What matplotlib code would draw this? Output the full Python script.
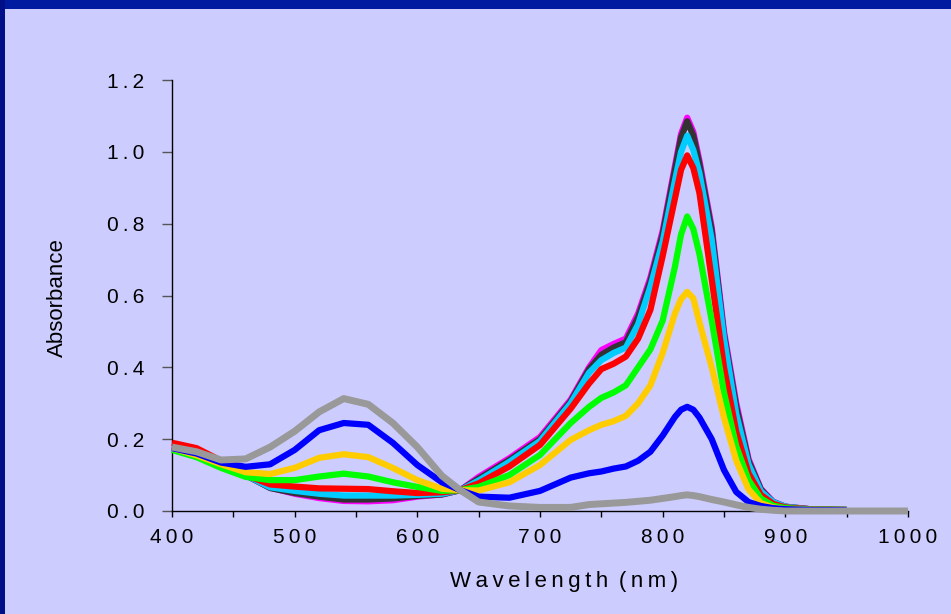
import matplotlib
matplotlib.use("Agg")
import matplotlib.pyplot as plt
from matplotlib.patches import Rectangle
from matplotlib.ticker import MultipleLocator, FixedLocator, FixedFormatter

plt.rcParams['font.family'] = ['Liberation Sans', 'DejaVu Sans']

# wavelength grid (nm)
wl = [400, 420, 440, 460, 480, 500, 520, 540, 560, 580, 600, 620, 635, 650, 675,
      700, 725, 740, 750, 760, 770, 780, 790, 800, 810, 815, 820, 825, 830, 840,
      850, 860, 870, 880, 890, 900, 920, 950]
wl_gray = wl + [1000]

magenta = [0.180, 0.165, 0.130, 0.100, 0.065, 0.048, 0.036, 0.028, 0.027, 0.030, 0.040, 0.046, 0.058, 0.095, 0.147,
           0.206, 0.310, 0.400, 0.448, 0.465, 0.480, 0.550, 0.650, 0.780, 0.960, 1.050, 1.095, 1.055, 0.975, 0.790,
           0.500, 0.300, 0.145, 0.062, 0.026, 0.012, 0.005, 0.003]
black = [0.178, 0.160, 0.128, 0.100, 0.064, 0.050, 0.040, 0.032, 0.032, 0.035, 0.042, 0.046, 0.058, 0.090, 0.142,
         0.200, 0.305, 0.395, 0.435, 0.455, 0.470, 0.540, 0.640, 0.770, 0.950, 1.040, 1.085, 1.045, 0.965, 0.780,
         0.490, 0.290, 0.140, 0.060, 0.025, 0.012, 0.005, 0.003]
cyan = [0.175, 0.160, 0.128, 0.100, 0.066, 0.056, 0.048, 0.043, 0.043, 0.043, 0.045, 0.048, 0.058, 0.085, 0.137,
        0.195, 0.300, 0.385, 0.420, 0.440, 0.455, 0.520, 0.625, 0.750, 0.920, 1.000, 1.045, 1.005, 0.940, 0.755,
        0.480, 0.270, 0.130, 0.055, 0.025, 0.012, 0.005, 0.003]
red = [0.190, 0.175, 0.140, 0.100, 0.074, 0.068, 0.063, 0.062, 0.061, 0.055, 0.050, 0.052, 0.058, 0.077, 0.124,
       0.184, 0.285, 0.355, 0.395, 0.410, 0.430, 0.480, 0.560, 0.710, 0.870, 0.950, 0.990, 0.955, 0.885, 0.645,
       0.400, 0.220, 0.105, 0.045, 0.020, 0.010, 0.005, 0.003]
green = [0.170, 0.150, 0.120, 0.095, 0.086, 0.086, 0.096, 0.104, 0.096, 0.080, 0.067, 0.056, 0.058, 0.067, 0.100,
         0.156, 0.245, 0.290, 0.315, 0.330, 0.350, 0.400, 0.450, 0.530, 0.680, 0.770, 0.820, 0.785, 0.715, 0.530,
         0.330, 0.180, 0.086, 0.035, 0.015, 0.008, 0.004, 0.003]
yellow = [0.175, 0.155, 0.130, 0.108, 0.103, 0.120, 0.148, 0.158, 0.150, 0.120, 0.086, 0.062, 0.058, 0.057, 0.080,
          0.128, 0.198, 0.225, 0.240, 0.250, 0.265, 0.300, 0.350, 0.440, 0.550, 0.590, 0.610, 0.592, 0.525, 0.400,
          0.260, 0.140, 0.060, 0.022, 0.010, 0.005, 0.003, 0.002]
blue = [0.175, 0.160, 0.135, 0.123, 0.130, 0.170, 0.225, 0.245, 0.240, 0.190, 0.128, 0.080, 0.058, 0.040, 0.037,
        0.056, 0.093, 0.105, 0.110, 0.118, 0.124, 0.140, 0.165, 0.210, 0.262, 0.282, 0.290, 0.282, 0.260, 0.200,
        0.114, 0.053, 0.025, 0.014, 0.008, 0.005, 0.003, 0.002]
gray = [0.178, 0.165, 0.142, 0.145, 0.178, 0.222, 0.276, 0.313, 0.297, 0.245, 0.178, 0.098, 0.058, 0.025, 0.014,
        0.010, 0.010, 0.018, 0.020, 0.022, 0.024, 0.027, 0.030, 0.035, 0.040, 0.043, 0.045, 0.043, 0.040, 0.032,
        0.025, 0.017, 0.010, 0.005, 0.002, 0.000, 0.000, 0.000, 0.000]

series = [(magenta, '#FF00FF'), (black, '#333333'), (cyan, '#00CCFF'), (red, '#FF0000'),
          (green, '#00FF00'), (yellow, '#FFCC00'), (blue, '#0000FF')]

xticks = [400, 500, 600, 700, 800, 900, 1000]
yticks = [0.0, 0.2, 0.4, 0.6, 0.8, 1.0, 1.2]

TS = '\u2009'  # thin space, mimics the letter-spaced slide text


def spaced(s):
    return TS.join(s)


bg = '#CCCCFF'
fig = plt.figure(figsize=(9.51, 6.14), dpi=100, facecolor=bg)

# dark blue slide frame
fig.patches.append(Rectangle((0, 1 - 9 / 614), 1, 9 / 614, transform=fig.transFigure,
                             facecolor='#001AA0', edgecolor='none', zorder=0))
fig.patches.append(Rectangle((0, 0), 5 / 951, 1, transform=fig.transFigure,
                             facecolor='#000E88', edgecolor='none', zorder=0))

ax = fig.add_axes([172 / 951, 103 / 614, 736 / 951, 431 / 614])
ax.set_facecolor(bg)

for vals, col in series:
    ax.plot(wl, vals, color=col, lw=4.5, solid_capstyle='butt', solid_joinstyle='round',
            clip_on=False, zorder=3)
ax.plot(wl_gray, gray, color='#999999', lw=5.0, solid_capstyle='butt', solid_joinstyle='round',
        clip_on=False, zorder=3)

ax.set_xlim(400, 1000)
ax.set_ylim(0, 1.2)

for s in ['top', 'right']:
    ax.spines[s].set_visible(False)
for s in ['left', 'bottom']:
    ax.spines[s].set_color('black')
    ax.spines[s].set_linewidth(1.0)

ax.xaxis.set_major_locator(FixedLocator(xticks))
ax.xaxis.set_major_formatter(FixedFormatter([spaced(str(v)) for v in xticks]))
ax.xaxis.set_minor_locator(MultipleLocator(50))
ax.yaxis.set_major_locator(FixedLocator(yticks))
ax.yaxis.set_major_formatter(FixedFormatter([spaced('%.1f' % v) for v in yticks]))

ax.tick_params(axis='x', which='both', direction='out', length=4.5, width=1, color='black',
               labelsize=15, pad=8, labelcolor='black')
ax.tick_params(axis='y', which='major', direction='out', length=7, width=1, color='#555555',
               labelsize=15, pad=13, labelcolor='black')

fig.text(564 / 951, 1 - 581 / 614, spaced('Wavelength') + ' ' + TS + spaced('(nm)'),
         ha='center', va='center', fontsize=16, color='black')
fig.text(57 / 951, 1 - 298 / 614, 'Absorbance', rotation=90,
         ha='center', va='center', fontsize=16, color='black')

fig.savefig('out.png', dpi=100, facecolor=bg)
